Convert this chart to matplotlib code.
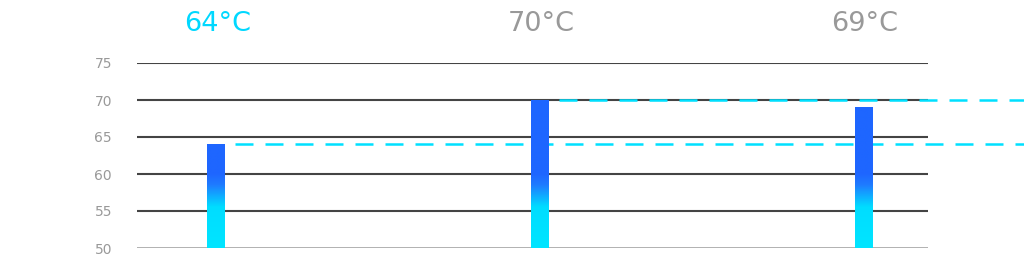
import numpy as np
import matplotlib
matplotlib.use("Agg")
import matplotlib.pyplot as plt
from matplotlib.colors import LinearSegmentedColormap
from matplotlib.transforms import blended_transform_factory

categories = ["A", "B", "C"]
values = [64, 70, 69]
labels = ["64°C", "70°C", "69°C"]
label_colors = ["#00D8FF", "#999999", "#999999"]
ref_lines = [64, 70]
yticks = [50, 55, 60, 65, 70, 75]

plt.rcParams['font.family'] = ['DejaVu Sans']

fig = plt.figure(figsize=(10.24, 2.69), dpi=100)
ax = fig.add_axes([137/1024, 21/269, (928-137)/1024, 185/269])
ax.set_xlim(-0.244, 2.2)
ax.set_ylim(50, 75)

for s in ax.spines.values():
    s.set_visible(False)
ax.set_xticks([])
ax.set_yticks(yticks)
ax.set_yticklabels([str(t) for t in yticks])
ax.tick_params(axis='y', length=0, pad=18, labelsize=10, labelcolor="#999999")

for t in yticks:
    if t == 50:
        ax.axhline(t, color="#aaaaaa", lw=2, zorder=1)
    else:
        ax.axhline(t, color="#444444", lw=1.5, zorder=1)

cmap = LinearSegmentedColormap.from_list("g", [(0, "#00E5FF"), (0.22, "#00DDFF"),
                                               (0.34, "#1F7BFF"), (0.40, "#1E66FF"), (1, "#1E66FF")])
w = 0.053
yy = np.linspace(50, 75, 400).reshape(-1, 1)
for i, v in enumerate(values):
    sub = yy[yy[:, 0] <= v]
    img = (sub - 50) / 25.0
    ax.imshow(img[::-1], cmap=cmap, vmin=0, vmax=1, aspect='auto',
              extent=(i - w/2, i + w/2, 50, v), zorder=3, interpolation='bilinear')

ax.set_xlim(-0.244, 2.2)
ax.set_ylim(50, 75)

for r in ref_lines:
    idx = values.index(r)
    ln, = ax.plot([idx + 0.06, 2.7], [r, r], color="#00E0FF", lw=1.8, zorder=2,
                  clip_on=False)
    ln.set_dashes((7.2, 4.8))

tr = blended_transform_factory(ax.transData, fig.transFigure)
for i, (lab, c) in enumerate(zip(labels, label_colors)):
    ax.text(i + 0.005, 1 - 24/269, lab, transform=tr, ha='center', va='center',
            fontsize=19.5, color=c)

fig.savefig("out.png", dpi=100)
